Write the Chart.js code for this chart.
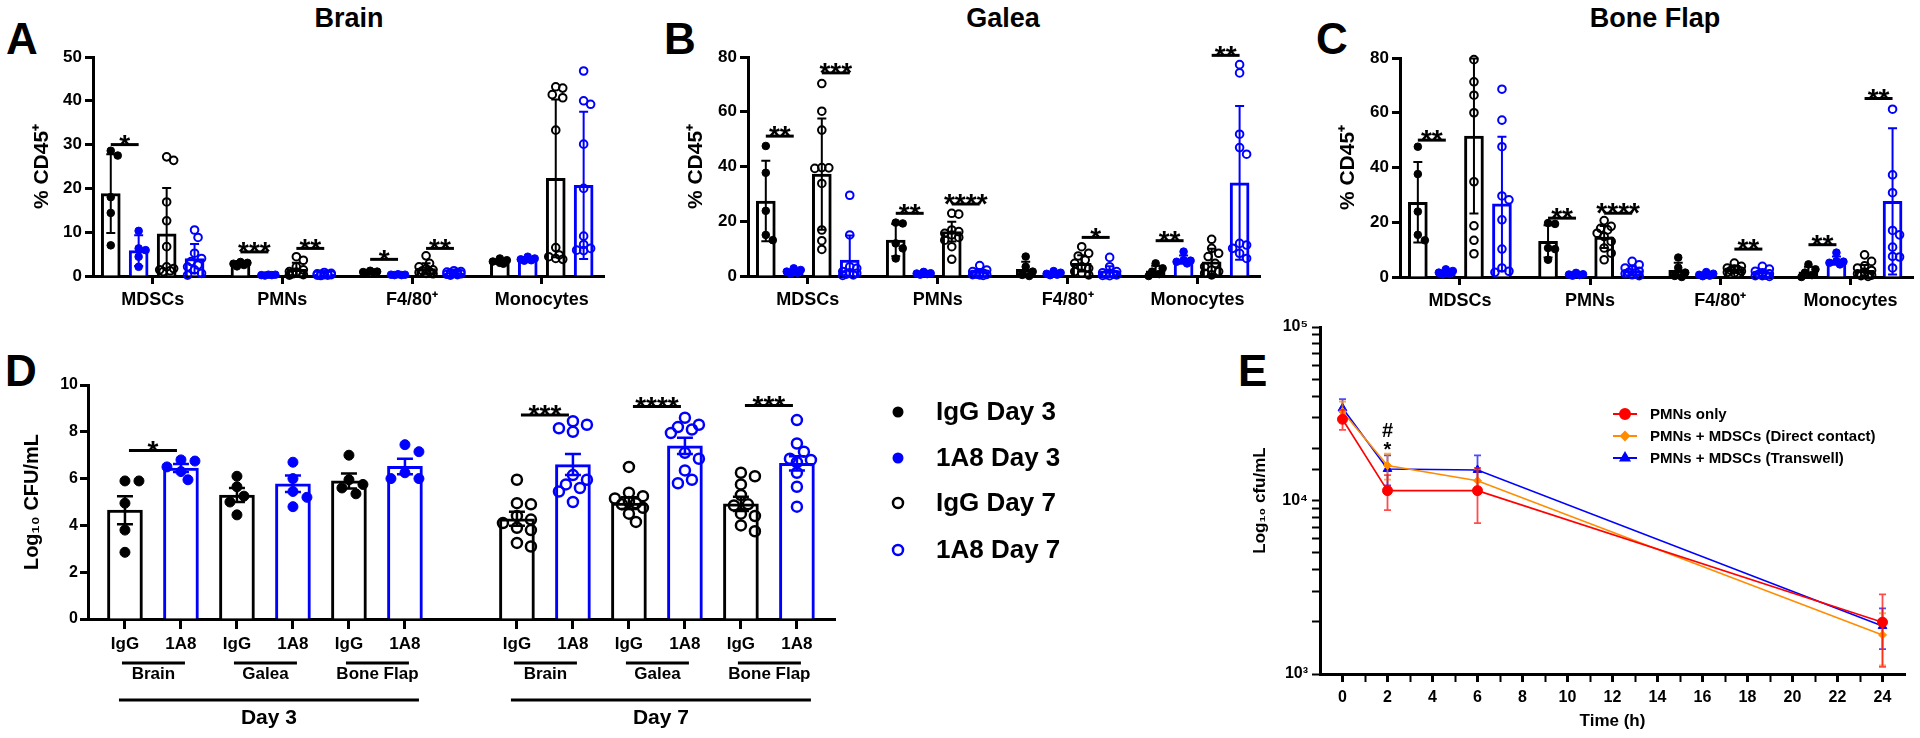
<!DOCTYPE html>
<html>
<head>
<meta charset="utf-8">
<script src="https://cdn.jsdelivr.net/npm/chart.js@4.4.0/dist/chart.umd.min.js"></script>
<style>
  body { margin: 0; background: #fff; width: 1920px; height: 738px; overflow: hidden; position: relative;
         font-family: 'Liberation Sans', Arial, sans-serif; }
  .cv { position: absolute; }
  .lbl { position: absolute; font-weight: bold; line-height: 1; color: #000; white-space: nowrap; }
  .letter { font-size: 44px; }
  .ttl { font-size: 27px; width: 300px; text-align: center; }
</style>
</head>
<body>
<div class="lbl letter" style="left:6px;top:17px">A</div>
<div class="lbl letter" style="left:664px;top:17px">B</div>
<div class="lbl letter" style="left:1316px;top:17px">C</div>
<div class="lbl letter" style="left:5px;top:349px">D</div>
<div class="lbl letter" style="left:1238px;top:349px">E</div>
<div class="lbl ttl" style="left:199px;top:5px">Brain</div>
<div class="lbl ttl" style="left:853px;top:5px">Galea</div>
<div class="lbl ttl" style="left:1505px;top:5px">Bone Flap</div>

<div class="cv" style="left:0;top:0;width:640px;height:370px"><canvas id="chartBrain"></canvas></div>
<div class="cv" style="left:640px;top:0;width:640px;height:370px"><canvas id="chartGalea"></canvas></div>
<div class="cv" style="left:1280px;top:0;width:640px;height:370px"><canvas id="chartBone"></canvas></div>
<div class="cv" style="left:0;top:370px;width:1100px;height:368px"><canvas id="chartCfu"></canvas></div>
<div class="cv" style="left:1200px;top:300px;width:720px;height:438px"><canvas id="chartKill"></canvas></div>

<script>
const FONT = "'Liberation Sans', Arial, sans-serif";
Chart.defaults.font.family = FONT;
Chart.defaults.font.weight = 'bold';
Chart.defaults.color = '#000';
Chart.defaults.animation = false;

// A-C: % CD45+ per cell type
const cellTypes = ['MDSCs', 'PMNs', 'F4/80⁺', 'Monocytes'];
const groupNames = ['IgG Day 3', '1A8 Day 3', 'IgG Day 7', '1A8 Day 7'];

// rows = group, columns = cell type
const brainMean = [
  [18.8, 2.9, 0.9, 3.3],
  [5.8, 0.2, 0.3, 3.9],
  [9.6, 1.5, 1.7, 22.3],
  [4.0, 0.4, 0.6, 20.7]
];
const brainSD = [
  [9.0, 0.5, 0.2, 0.5],
  [3.5, 0.1, 0.1, 0.4],
  [10.5, 1.5, 1.2, 18.0],
  [3.3, 0.3, 0.3, 16.8]
];
const brainPoints = [
  [[28.6, 27.5, 18.0, 14.4, 7.0], [3.2, 3.0, 2.8, 2.5, 2.2], [1.2, 1.0, 0.9, 0.8, 0.6], [4.0, 3.6, 3.3, 3.0, 2.8]],
  [[10.3, 6.3, 5.9, 4.4, 2.1], [0.3, 0.2, 0.2, 0.3, 0.1], [0.4, 0.3, 0.3, 0.2, 0.2], [4.4, 4.0, 3.8, 3.6, 3.5]],
  [[27.2, 26.4, 16.9, 12.6, 6.7, 2.1, 1.7, 1.4, 1.2, 1.0], [4.4, 3.6, 2.1, 1.4, 1.0, 0.9, 0.6, 0.5, 0.3, 0.2],
   [4.6, 2.9, 2.1, 1.7, 1.4, 1.2, 1.0, 0.8, 0.6, 0.5], [43.2, 42.9, 41.4, 40.7, 33.3, 6.5, 4.8, 4.4, 4.0, 3.8]],
  [[10.5, 8.8, 5.2, 4.0, 3.3, 2.5, 2.1, 1.4, 0.6, 0.2], [0.8, 0.6, 0.5, 0.4, 0.4, 0.3, 0.3, 0.2, 0.2, 0.1],
   [1.2, 1.0, 0.9, 0.8, 0.7, 0.6, 0.5, 0.4, 0.3, 0.2], [46.8, 40.0, 39.2, 30.1, 20.0, 9.1, 7.2, 6.3, 5.9, 5.8]]
];
// [cell type, group a, group b, bar height, stars]
const brainSig = [[0, 0, 1, 30.0, '*'], [1, 0, 1, 5.5, '***'], [1, 2, 3, 6.3, '**'], [2, 0, 1, 3.8, '*'], [2, 2, 3, 6.3, '**']];

const galeaMean = [
  [27.4, 13.1, 2.4, 1.9],
  [1.6, 0.9, 0.9, 6.0],
  [37.2, 16.2, 4.6, 5.2],
  [5.8, 1.3, 1.6, 34.0]
];
const galeaSD = [
  [14.7, 5.9, 2.8, 1.8],
  [0.6, 0.4, 0.6, 1.5],
  [20.3, 3.6, 3.0, 4.8],
  [9.0, 1.2, 2.0, 28.1]
];
const galeaPoints = [
  [[47.5, 37.7, 23.8, 15.0, 13.1], [19.5, 19.2, 11.9, 10.1, 6.4], [7.1, 3.4, 1.6, 0.4, 0.0], [4.6, 2.8, 1.6, 0.7, 0.0]],
  [[2.8, 2.2, 1.6, 1.2, 1.0], [1.5, 1.0, 0.9, 0.7, 0.5], [1.8, 1.2, 0.8, 0.5, 0.3], [8.9, 5.8, 5.6, 5.2, 4.6]],
  [[70.3, 60.2, 53.3, 39.6, 39.5, 39.3, 33.8, 16.8, 12.9, 9.7], [22.9, 22.6, 16.8, 16.2, 15.6, 15.0, 14.1, 13.1, 10.7, 6.1],
   [10.7, 8.3, 7.3, 5.8, 4.6, 3.4, 2.8, 1.6, 1.0, 0.4], [13.4, 10.1, 8.3, 7.1, 4.6, 3.4, 2.2, 1.6, 1.0, 0.4]],
  [[29.5, 15.0, 3.4, 2.8, 1.6, 1.2, 1.0, 0.7, 0.4, 0.2], [3.8, 2.2, 1.6, 1.2, 1.0, 0.7, 0.6, 0.5, 0.4, 0.2],
   [6.8, 3.4, 1.6, 1.2, 1.0, 0.7, 0.5, 0.4, 0.2, 0.1], [77.2, 74.2, 51.8, 46.9, 44.5, 11.9, 11.3, 10.1, 8.3, 6.4]]
];
const galeaSig = [[0, 0, 1, 51.1, '**'], [0, 2, 3, 74.2, '***'], [1, 0, 1, 22.9, '**'], [1, 2, 3, 26.3, '****'],
                  [2, 2, 3, 14.1, '*'], [3, 0, 1, 12.9, '**'], [3, 2, 3, 80.6, '**']];

const boneMean = [
  [27.3, 13.0, 2.4, 1.9],
  [1.6, 0.9, 0.9, 6.0],
  [51.5, 14.6, 2.9, 2.4],
  [26.7, 2.3, 1.4, 27.6]
];
const boneSD = [
  [14.7, 5.9, 2.8, 1.8],
  [0.6, 0.4, 0.6, 1.5],
  [28.3, 4.0, 1.2, 2.0],
  [24.5, 1.6, 1.0, 26.7]
];
const bonePoints = [
  [[47.6, 37.6, 23.9, 15.4, 13.4], [19.7, 19.4, 10.6, 10.2, 6.3], [7.1, 3.4, 1.6, 0.4, 0.0], [4.6, 2.8, 1.6, 0.7, 0.0]],
  [[2.8, 2.2, 1.6, 1.2, 1.0], [1.5, 1.0, 0.9, 0.7, 0.5], [1.8, 1.2, 0.8, 0.5, 0.3], [8.9, 5.8, 5.6, 5.2, 4.6]],
  [[79.4, 71.3, 66.4, 60.0, 34.8, 18.7, 13.4, 8.5], [20.6, 18.5, 17.8, 17.2, 16.0, 14.8, 13.0, 10.6, 8.7, 6.3],
   [5.1, 3.9, 3.3, 2.9, 2.7, 2.4, 2.1, 1.7, 1.5, 1.2], [8.1, 5.7, 4.1, 3.3, 2.4, 1.7, 1.2, 0.7, 0.5, 0.2]],
  [[68.6, 57.3, 47.6, 29.6, 28.2, 20.9, 10.2, 3.3, 2.1, 1.7], [5.7, 4.5, 3.3, 2.7, 2.1, 1.7, 1.5, 1.2, 0.8, 0.5],
   [3.9, 2.9, 2.1, 1.5, 1.2, 1.0, 0.7, 0.5, 0.5, 0.2], [61.3, 37.3, 30.8, 17.0, 15.4, 10.9, 7.5, 7.3, 3.3]]
];
const boneSig = [[0, 0, 1, 50.0, '**'], [1, 0, 1, 21.5, '**'], [1, 2, 3, 23.3, '****'], [2, 2, 3, 10.2, '**'],
                 [3, 0, 1, 11.8, '**'], [3, 2, 3, 65.2, '**']];

// D: Log10 CFU/mL
const cfuTreat = ['IgG', '1A8', 'IgG', '1A8', 'IgG', '1A8', 'IgG', '1A8', 'IgG', '1A8', 'IgG', '1A8'];
const cfuGroup = [0, 1, 0, 1, 0, 1, 2, 3, 2, 3, 2, 3];
const cfuPos = [0, 1, 2, 3, 4, 5, 7, 8, 9, 10, 11, 12];
const cfuTissues = ['Brain', 'Galea', 'Bone Flap'];
const cfuDays = ['Day 3', 'Day 7'];
const cfuMean = [4.65, 6.45, 5.3, 5.78, 5.9, 6.52, 4.28, 6.6, 4.95, 7.4, 4.92, 6.65];
const cfuSEM = [0.6, 0.17, 0.3, 0.35, 0.32, 0.33, 0.3, 0.45, 0.25, 0.35, 0.3, 0.3];
const cfuPoints = [
  [5.9, 5.9, 4.95, 3.8, 2.85],
  [6.8, 6.75, 6.5, 6.3, 5.95],
  [6.1, 5.65, 5.25, 5.0, 4.45],
  [6.7, 6.0, 5.45, 5.2, 4.8],
  [7.0, 5.95, 5.75, 5.6, 5.35],
  [7.45, 7.15, 6.25, 6.0, 6.0],
  [5.95, 4.95, 4.9, 4.4, 4.25, 4.1, 3.9, 3.8, 3.25, 3.1],
  [8.45, 8.3, 8.15, 8.0, 6.15, 5.95, 5.75, 5.6, 5.45, 5.0],
  [6.5, 5.4, 5.25, 5.15, 5.0, 4.95, 4.9, 4.75, 4.5, 4.15],
  [8.6, 8.3, 8.2, 8.1, 7.95, 7.1, 6.85, 6.35, 5.95, 5.8],
  [6.25, 6.1, 5.75, 5.3, 4.9, 4.85, 4.5, 4.4, 4.0, 3.75],
  [8.5, 7.5, 7.15, 6.85, 6.8, 6.7, 6.25, 5.65, 4.8]
];
// [bar a, bar b, bar height, stars]
const cfuSig = [[0, 1, 7.2, '*'], [6, 7, 8.72, '***'], [8, 9, 9.08, '****'], [10, 11, 9.12, '***']];

// E: killing curve
const hours = [0, 2, 6, 24];
const pmnOnly = [29400, 11400, 11400, 1990];
const pmnOnlySD = [3900, 2600, 4000, 890];
const directContact = [32600, 15900, 13000, 1680];
const directContactSD = [4600, 2700, 2100, 560];
const transwell = [34100, 15200, 15000, 1890];
const transwellSD = [4300, 3000, 3200, 500];
const killMarks = [['#', 2, 25600], ['*', 2, 21000]];

const BLACK = '#000000';
const BLUE = '#0000ff';
const groupColor = [BLACK, BLUE, BLACK, BLUE];
const groupFilled = [true, true, false, false];
const groupShift = [-0.323, -0.108, 0.108, 0.323];

// spread overlapping dots sideways, like a column scatter
function swarm(values, center, xUnitPerPx, pxPerUnit, diam, stepPx, maxK) {
  const placed = [];
  return values.slice().sort((a, b) => b - a).map(v => {
    let best = 0, bestD = -1;
    for (let k = 0; k <= 2 * maxK; k++) {
      const off = k === 0 ? 0 : (k % 2 ? 1 : -1) * Math.ceil(k / 2) * stepPx;
      let minD = Infinity;
      placed.forEach(p => { minD = Math.min(minD, Math.hypot(off - p.o, (v - p.v) * pxPerUnit)); });
      if (minD >= diam) { best = off; break; }
      if (minD > bestD) { bestD = minD; best = off; }
    }
    placed.push({ o: best, v: v });
    return { x: center + best * xUnitPerPx, y: v };
  });
}

const errorBars = {
  id: 'errorBars',
  afterDatasetDraw(chart, args) {
    const ds = chart.data.datasets[args.index];
    if (!ds.errors) return;
    const ctx = chart.ctx, ys = chart.scales.y;
    ctx.save();
    ctx.lineWidth = ds.errorWidth || 2;
    args.meta.data.forEach((el, i) => {
      const v = ds.data[i].y, e = ds.errors[i];
      const col = ds.errorColor || (Array.isArray(ds.borderColor) ? ds.borderColor[i] : ds.borderColor);
      ctx.strokeStyle = col;
      const cap = (ds.capWidth || 10) / 2;
      const top = ys.getPixelForValue(v + e);
      const low = v - e;
      const clamped = low <= ys.min;
      const bot = ys.getPixelForValue(clamped ? ys.min : low);
      ctx.beginPath();
      ctx.moveTo(el.x, top); ctx.lineTo(el.x, bot);
      ctx.moveTo(el.x - cap, top); ctx.lineTo(el.x + cap, top);
      if (!clamped) { ctx.moveTo(el.x - cap, bot); ctx.lineTo(el.x + cap, bot); }
      ctx.stroke();
    });
    ctx.restore();
  }
};

function sigPlugin(items, fs, ext) {
  return {
    id: 'sig',
    afterDraw(chart) {
      const ctx = chart.ctx, xs = chart.scales.x, ys = chart.scales.y;
      ctx.save();
      ctx.strokeStyle = '#000'; ctx.fillStyle = '#000'; ctx.lineWidth = 3;
      ctx.font = 'bold ' + fs + 'px ' + FONT;
      ctx.textAlign = 'center'; ctx.textBaseline = 'alphabetic';
      items.forEach(([a, b, v, stars]) => {
        const x0 = xs.getPixelForValue(a) + ext, x1 = xs.getPixelForValue(b) - ext;
        const yy = ys.getPixelForValue(v);
        ctx.beginPath(); ctx.moveTo(x0, yy); ctx.lineTo(x1, yy); ctx.stroke();
        ctx.fillText(stars, (x0 + x1) / 2, yy + fs * 0.33);
      });
      ctx.restore();
    }
  };
}

function axisLook(extra) {
  return Object.assign({
    offset: false,
    grid: { display: true, drawOnChartArea: false, drawTicks: true, tickLength: 8, tickWidth: 3, tickColor: '#000', offset: false },
    border: { display: true, color: '#000', width: 3 }
  }, extra);
}

function drawTissueChart(canvasId, means, sds, points, sig, yMax, yStep, box) {
  const pxPerUnit = 219 / yMax;
  const datasets = [];
  groupNames.forEach((name, g) => {
    datasets.push({
      type: 'bar', label: name, order: 2,
      data: cellTypes.map((c, i) => ({ x: i + groupShift[g], y: means[g][i] })),
      errors: sds[g], errorWidth: 2, capWidth: 9,
      backgroundColor: '#ffffff', borderColor: groupColor[g], borderWidth: 3,
      barThickness: 19, grouped: false
    });
  });
  groupNames.forEach((name, g) => {
    let pts = [];
    cellTypes.forEach((c, i) => {
      pts = pts.concat(swarm(points[g][i], i + groupShift[g], 1 / 130, pxPerUnit, 8, 3.5, 2));
    });
    datasets.push({
      type: 'scatter', label: name, order: 1, data: pts, clip: false,
      pointRadius: 3.8, pointBorderWidth: groupFilled[g] ? 1 : 2,
      pointBackgroundColor: groupFilled[g] ? groupColor[g] : 'rgba(0,0,0,0)',
      pointBorderColor: groupColor[g], pointHoverRadius: 3.8
    });
  });
  const sigItems = sig.map(([c, a, b, v, s]) => [c + groupShift[a], c + groupShift[b], v, s]);

  new Chart(document.getElementById(canvasId), {
    type: 'bar',
    data: { datasets: datasets },
    options: {
      responsive: true,
      maintainAspectRatio: false,
      layout: { padding: { left: 0, right: box.right, top: box.top, bottom: 0 } },
      scales: {
        x: axisLook({
          type: 'linear', min: -0.46, max: 3.48,
          afterBuildTicks: s => { s.ticks = cellTypes.map((c, i) => ({ value: i })); },
          ticks: { callback: v => cellTypes[v], font: { size: 18, weight: 'bold' }, padding: 5, autoSkip: false, maxRotation: 0 },
          afterFit: s => { s.height = box.xh; }
        }),
        y: axisLook({
          min: 0, max: yMax,
          ticks: { stepSize: yStep, font: { size: 17, weight: 'bold' }, padding: 3 },
          title: { display: true, text: '% CD45⁺', font: { size: 21, weight: 'bold' }, padding: { top: box.titlePad, bottom: 0 } },
          afterFit: s => { s.width = box.yw; }
        })
      },
      plugins: { legend: { display: false }, tooltip: { enabled: false } }
    },
    plugins: [errorBars, sigPlugin(sigItems, 28, 0)]
  });
}

drawTissueChart('chartBrain', brainMean, brainSD, brainPoints, brainSig, 50, 10, { right: 36, top: 57, xh: 94, yw: 93, titlePad: 30 });
drawTissueChart('chartGalea', galeaMean, galeaSD, galeaPoints, galeaSig, 80, 20, { right: 20, top: 57, xh: 94, yw: 108, titlePad: 44 });
drawTissueChart('chartBone', boneMean, boneSD, bonePoints, boneSig, 80, 20, { right: 7, top: 58, xh: 93, yw: 120, titlePad: 56 });

// D
const cfuLabels = {
  id: 'cfuLabels',
  afterDraw(chart) {
    const ctx = chart.ctx, xs = chart.scales.x, base = chart.chartArea.bottom;
    ctx.save();
    ctx.strokeStyle = '#000'; ctx.fillStyle = '#000'; ctx.lineWidth = 3;
    ctx.textAlign = 'center'; ctx.textBaseline = 'middle';
    for (let t = 0; t < 6; t++) {
      const x0 = xs.getPixelForValue(cfuPos[2 * t]) - 3, x1 = xs.getPixelForValue(cfuPos[2 * t + 1]) + 4;
      ctx.beginPath(); ctx.moveTo(x0, base + 44); ctx.lineTo(x1, base + 44); ctx.stroke();
      ctx.font = 'bold 17px ' + FONT;
      ctx.fillText(cfuTissues[t % 3], (x0 + x1) / 2, base + 55);
    }
    cfuDays.forEach((d, k) => {
      const x0 = xs.getPixelForValue(cfuPos[6 * k]) - 6, x1 = xs.getPixelForValue(cfuPos[6 * k + 5]) + 14;
      ctx.beginPath(); ctx.moveTo(x0, base + 81); ctx.lineTo(x1, base + 81); ctx.stroke();
      ctx.font = 'bold 21px ' + FONT;
      ctx.fillText(d, (x0 + x1) / 2, base + 99);
    });
    // legend
    ctx.textAlign = 'left';
    ctx.font = 'bold 26px ' + FONT;
    [42, 88, 133, 180].forEach((yy, g) => {
      ctx.beginPath();
      ctx.arc(898, yy, groupFilled[g] ? 5.5 : 5, 0, Math.PI * 2);
      if (groupFilled[g]) { ctx.fillStyle = groupColor[g]; ctx.fill(); }
      else { ctx.strokeStyle = groupColor[g]; ctx.lineWidth = 2.5; ctx.stroke(); }
      ctx.fillStyle = '#000';
      ctx.fillText(groupNames[g], 936, yy + 1);
    });
    ctx.restore();
  }
};

const cfuScatter = groupNames.map((name, g) => {
  let pts = [];
  cfuPos.forEach((p, i) => {
    if (cfuGroup[i] === g) pts = pts.concat(swarm(cfuPoints[i], p, 1 / 56, 23.4, 10.5, 7, 2));
  });
  return {
    type: 'scatter', label: name, order: 1, data: pts, clip: false,
    pointRadius: 5, pointBorderWidth: groupFilled[g] ? 1 : 2.5,
    pointBackgroundColor: groupFilled[g] ? groupColor[g] : 'rgba(0,0,0,0)',
    pointBorderColor: groupColor[g], pointHoverRadius: 5
  };
});

new Chart(document.getElementById('chartCfu'), {
  type: 'bar',
  data: {
    datasets: [{
      type: 'bar', label: 'Mean', order: 2,
      data: cfuPos.map((p, i) => ({ x: p, y: cfuMean[i] })),
      errors: cfuSEM, errorWidth: 2.5, capWidth: 16,
      backgroundColor: '#ffffff', borderColor: cfuGroup.map(g => groupColor[g]), borderWidth: 3,
      barThickness: 35, grouped: false
    }].concat(cfuScatter)
  },
  options: {
    responsive: true,
    maintainAspectRatio: false,
    layout: { padding: { left: 0, right: 265, top: 15, bottom: 0 } },
    scales: {
      x: axisLook({
        type: 'linear', min: -0.66, max: 12.68,
        afterBuildTicks: s => { s.ticks = cfuPos.map(p => ({ value: p })); },
        ticks: { callback: v => cfuTreat[cfuPos.indexOf(v)], font: { size: 17, weight: 'bold' }, padding: 5, autoSkip: false, maxRotation: 0 },
        grid: { display: true, drawOnChartArea: false, drawTicks: true, tickLength: 10, tickWidth: 3, tickColor: '#000', offset: false },
        afterFit: s => { s.height = 119; }
      }),
      y: axisLook({
        min: 0, max: 10,
        ticks: { stepSize: 2, font: { size: 16, weight: 'bold' }, padding: 2 },
        title: { display: true, text: 'Log₁₀ CFU/mL', font: { size: 20, weight: 'bold' }, padding: { top: 20, bottom: 0 } },
        afterFit: s => { s.width = 88; }
      })
    },
    plugins: { legend: { display: false }, tooltip: { enabled: false } }
  },
  plugins: [errorBars, sigPlugin(cfuSig.map(([a, b, v, s]) => [cfuPos[a], cfuPos[b], v, s]), 28, 4), cfuLabels]
});

// E
const supDigits = ['⁰', '¹', '²', '³', '⁴', '⁵', '⁶'];
const killLegend = {
  id: 'killLegend',
  afterDraw(chart) {
    const ctx = chart.ctx;
    ctx.save();
    ctx.font = 'bold 15px ' + FONT;
    ctx.textAlign = 'left'; ctx.textBaseline = 'middle';
    [114, 136, 158].forEach((yy, i) => {
      const ds = chart.data.datasets[i];
      ctx.strokeStyle = ds.borderColor; ctx.lineWidth = 2;
      ctx.beginPath(); ctx.moveTo(413, yy); ctx.lineTo(437, yy); ctx.stroke();
      ctx.fillStyle = ds.backgroundColor;
      Chart.helpers.drawPoint(ctx, { pointStyle: ds.pointStyle, radius: ds.pointRadius, rotation: 0, borderWidth: 1 }, 425, yy);
      ctx.fillStyle = '#000';
      ctx.fillText(ds.label, 450, yy + 1);
    });
    ctx.font = 'bold 20px ' + FONT;
    ctx.textAlign = 'center'; ctx.textBaseline = 'alphabetic';
    const xs = chart.scales.x, ys = chart.scales.y;
    killMarks.forEach(([t, h, v]) => {
      const off = t === '*' ? 0.58 : 0.35;
      ctx.fillText(t, xs.getPixelForValue(h), ys.getPixelForValue(v) + 20 * off);
    });
    ctx.restore();
  }
};

function killSeries(label, values, sds, color, errColor, style, radius) {
  return {
    label: label,
    data: hours.map((h, i) => ({ x: h, y: values[i] })),
    errors: sds, errorColor: errColor, errorWidth: 1.8, capWidth: 7,
    borderColor: color, backgroundColor: color, borderWidth: 1.6,
    pointStyle: style, pointRadius: radius, pointHoverRadius: radius, pointBorderWidth: 1,
    tension: 0, clip: false
  };
}

new Chart(document.getElementById('chartKill'), {
  type: 'line',
  data: {
    datasets: [
      killSeries('PMNs only', pmnOnly, pmnOnlySD, '#ff0000', 'rgba(255,0,0,0.7)', 'circle', 5),
      killSeries('PMNs + MDSCs (Direct contact)', directContact, directContactSD, '#ff8c00', 'rgba(255,140,0,0.7)', 'rectRot', 4),
      killSeries('PMNs + MDSCs (Transwell)', transwell, transwellSD, '#0000ff', 'rgba(0,0,255,0.7)', 'triangle', 5)
    ]
  },
  options: {
    responsive: true,
    maintainAspectRatio: false,
    layout: { padding: { left: 0, right: 15, top: 27, bottom: 0 } },
    scales: {
      x: axisLook({
        type: 'linear', min: -1, max: 25,
        afterBuildTicks: s => { const t = []; for (let h = 0; h <= 24; h++) t.push({ value: h }); s.ticks = t; },
        ticks: { callback: v => (v % 2 === 0 ? String(v) : ''), font: { size: 16, weight: 'bold' }, padding: 6, autoSkip: false, maxRotation: 0 },
        grid: { display: true, drawOnChartArea: false, drawTicks: true, tickLength: 8, tickColor: '#000',
                tickWidth: c => (c.tick && c.tick.value % 2 === 0 ? 3 : 2) },
        title: { display: true, text: 'Time (h)', font: { size: 17, weight: 'bold' }, padding: { top: 0, bottom: 6 } },
        afterFit: s => { s.height = 64; }
      }),
      y: axisLook({
        type: 'logarithmic', min: 1000, max: 100000,
        ticks: {
          autoSkip: false, font: { size: 16, weight: 'bold' }, padding: 4,
          callback: v => { const p = Math.round(Math.log10(v)); return Math.abs(v - Math.pow(10, p)) < 1e-6 ? '10' + supDigits[p] : ''; }
        },
        grid: { display: true, drawOnChartArea: false, drawTicks: true, tickLength: 8, tickColor: '#000', tickWidth: 2 },
        title: { display: true, text: 'Log₁₀ cfu/mL', font: { size: 17, weight: 'bold' }, padding: { top: 50, bottom: 0 } },
        afterFit: s => { s.width = 120; }
      })
    },
    plugins: { legend: { display: false }, tooltip: { enabled: false } }
  },
  plugins: [errorBars, killLegend]
});
</script>
</body>
</html>
